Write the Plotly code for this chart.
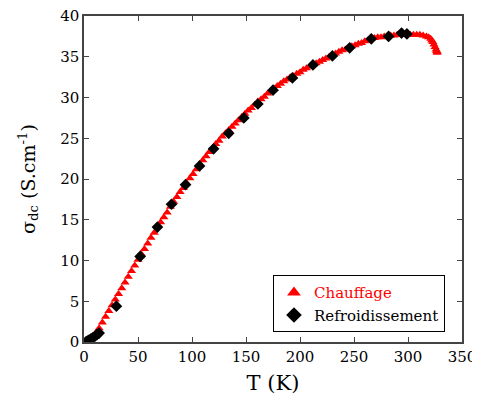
import plotly.graph_objects as go

# Chauffage (heating) - red triangles
T_heat = [2, 5, 8, 11, 14, 17, 20, 23, 26, 29, 32, 35, 38, 41, 44, 47, 50, 53, 56, 59,
          62, 65, 68, 71, 74, 77, 80, 83, 86, 89, 92, 95, 98, 101, 104, 107, 110, 113, 116, 119,
          122, 125, 128, 131, 134, 137, 140, 143, 146, 149, 152, 155, 158, 161, 164, 167, 170, 173, 176, 179,
          182, 185, 188, 191, 194, 197, 200, 203, 206, 209, 212, 215, 218, 221, 224, 227, 230, 233, 236, 239,
          242, 245, 248, 251, 254, 257, 260, 263, 266, 269, 272, 275, 278, 281, 284, 287, 290, 293, 296, 299,
          302, 305, 308, 311, 314, 317, 319, 321, 322, 323, 324, 325, 326, 326.5, 327, 327]
S_heat = [0.1, 0.3, 0.6, 1.1, 1.7, 2.4, 3.1, 3.8, 4.5, 5.2, 5.9, 6.6, 7.3, 8.0, 8.7, 9.4, 10.1, 10.8, 11.4, 12.1,
          12.8, 13.4, 14.1, 14.7, 15.3, 15.9, 16.6, 17.2, 17.8, 18.4, 18.9, 19.5, 20.1, 20.6, 21.2, 21.7, 22.3, 22.8, 23.3, 23.8,
          24.3, 24.7, 25.2, 25.6, 26.0, 26.4, 26.8, 27.2, 27.6, 28.0, 28.4, 28.7, 29.1, 29.5, 29.8, 30.1, 30.5, 30.8, 31.1, 31.4,
          31.7, 32.0, 32.2, 32.5, 32.6, 32.9, 33.1, 33.4, 33.6, 33.8, 34.0, 34.2, 34.4, 34.6, 34.8, 35.0, 35.2, 35.4, 35.6, 35.8,
          35.9, 36.1, 36.3, 36.4, 36.6, 36.7, 36.9, 37.0, 37.2, 37.3, 37.4, 37.4, 37.5, 37.5, 37.6, 37.6, 37.7, 37.7, 37.7, 37.7,
          37.7, 37.7, 37.7, 37.7, 37.6, 37.5, 37.4, 37.2, 37.0, 36.8, 36.5, 36.2, 35.9, 35.7, 35.5, 35.6]

# Refroidissement (cooling) - black diamonds
T_cool = [2, 4, 6, 8, 10, 12, 14, 30, 52, 68, 81, 94, 107, 120, 134, 148, 161, 175, 193, 212,
          230, 246, 266, 282, 294, 299]
S_cool = [0.05, 0.2, 0.35, 0.5, 0.7, 0.9, 1.1, 4.4, 10.5, 14.1, 16.9, 19.3, 21.6, 23.7, 25.6, 27.5, 29.2, 30.9, 32.4, 34.0,
          35.1, 36.1, 37.2, 37.5, 37.9, 37.8]

x_ticks = [0, 50, 100, 150, 200, 250, 300, 350]
y_ticks = [0, 5, 10, 15, 20, 25, 30, 35, 40]

FONT = "DejaVu Serif"

fig = go.Figure()
fig.add_trace(go.Scatter(
    x=T_heat, y=S_heat, mode="markers",
    name='<span style="color:#ff0000">Chauffage</span>',
    marker=dict(symbol="triangle-up", size=8, color="#ff0000", line=dict(width=0)),
))
fig.add_trace(go.Scatter(
    x=T_cool, y=S_cool, mode="markers",
    name="Refroidissement",
    marker=dict(symbol="diamond", size=9, color="#000000", line=dict(width=0)),
))

axis_common = dict(
    showline=True, linecolor="#444444", linewidth=1.5, mirror="ticks",
    ticks="inside", ticklen=5, tickwidth=1, tickcolor="#444444",
    showgrid=False, zeroline=False, automargin=False, ticklabeloverflow="allow",
    tickfont=dict(family=FONT, size=15, color="#000000"),
)

fig.update_xaxes(range=[0, 350], tickvals=x_ticks, ticktext=[str(v) for v in x_ticks],
                 title=dict(text="T (K)", font=dict(family=FONT, size=21, color="#000000"), standoff=11),
                 **axis_common)
fig.update_yaxes(range=[0, 40], tickvals=y_ticks, ticktext=[str(v) for v in y_ticks],
                 title=dict(text="σ<sub>dc</sub> (S.cm<sup>-1</sup>)", font=dict(family=FONT, size=19, color="#000000"), standoff=20),
                 **axis_common)

fig.update_layout(
    width=472, height=391,
    margin=dict(l=76, r=18, t=8, b=57),
    paper_bgcolor="white", plot_bgcolor="white",
    font=dict(family=FONT, color="#000000"),
    legend=dict(
        x=0.955, y=0.03, xanchor="right", yanchor="bottom",
        bordercolor="#000000", borderwidth=1, bgcolor="white",
        font=dict(family=FONT, size=15, color="#000000"),
        itemsizing="constant", tracegroupgap=0,
    ),
)

fig.write_html("out.html")
